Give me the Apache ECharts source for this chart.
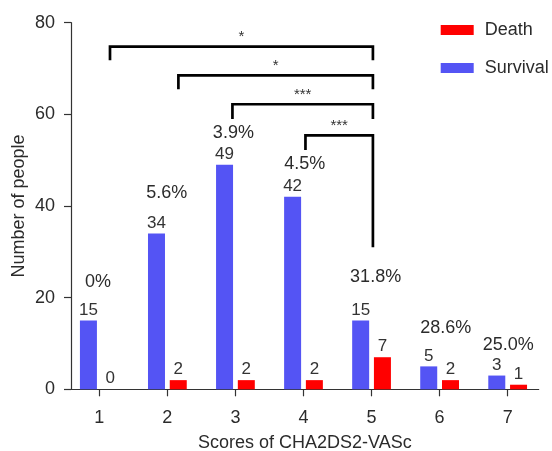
<!DOCTYPE html>
<html>
<head>
<meta charset="utf-8">
<script src="https://cdn.jsdelivr.net/npm/echarts@6/dist/echarts.min.js"></script>
<style>html,body{margin:0;padding:0;background:#fff}#c{width:552px;height:451px}</style>
</head>
<body>
<div id="c"></div>
<script>
// ---- data ----
var categories = [1, 2, 3, 4, 5, 6, 7];
var survival = [15, 34, 49, 42, 15, 5, 3];
var death = [0, 2, 2, 2, 7, 2, 1];
var pctLabels = ['0%', '5.6%', '3.9%', '4.5%', '31.8%', '28.6%', '25.0%'];
var pctX = [0.98, 1.99, 2.97, 4.02, 5.06, 6.09, 7.01];
var pctY = [23.5, 42.8, 55.9, 49.2, 24.6, 13.4, 9.7];
var yTicks = [0, 20, 40, 60, 80];
// significance brackets (data units)
var brLeft = [1.157, 2.162, 2.956, 4.029];
var brRight = [5.02, 5.02, 5.02, 5.02];
var brTop = [74.8, 68.5, 62.2, 55.4];
var brLeftBottom = [71.8, 65.5, 59.0, 52.2];
var brRightBottom = [71.8, 65.5, 59.0, 31.0];
var brStars = ['*', '*', '***', '***'];

var FONT = 'Liberation Sans, Arial, Helvetica, sans-serif';
var TXT = '#2b2b2b';
var chart = echarts.init(document.getElementById('c'), null, {renderer: 'canvas'});

var series = [
  {
    name: 'Survival', type: 'bar', barWidth: 17, barGap: '28%',
    itemStyle: {color: '#5454f4'},
    label: {show: true, position: 'top', distance: 2, fontSize: 17, color: '#333', fontFamily: FONT},
    data: categories.map(function (c, i) { return [c, survival[i]]; })
  },
  {
    name: 'Death', type: 'bar', barWidth: 17, barGap: '28%',
    itemStyle: {color: '#ff0000'},
    label: {show: true, position: 'top', distance: 2, fontSize: 17, color: '#333', fontFamily: FONT},
    data: categories.map(function (c, i) { return [c, death[i]]; })
  },
  {
    name: 'pct', type: 'scatter', symbolSize: 0, silent: true,
    itemStyle: {opacity: 1},
    label: {show: true, position: 'inside', fontSize: 18, color: TXT, fontFamily: FONT,
      formatter: function (p) { return pctLabels[p.dataIndex]; }},
    data: pctX.map(function (x, i) { return [x, pctY[i]]; })
  },
  {
    name: 'stars', type: 'scatter', symbolSize: 0, silent: true,
    itemStyle: {opacity: 1},
    label: {show: true, position: 'top', distance: 2, fontSize: 15, color: '#333', fontFamily: FONT,
      formatter: function (p) { return brStars[p.dataIndex]; }},
    data: brLeft.map(function (x, i) { return [(x + brRight[i]) / 2, brTop[i]]; })
  }
];
brLeft.forEach(function (x, i) {
  series.push({
    name: 'br' + i, type: 'line', symbol: 'none', silent: true, z: 5,
    lineStyle: {color: '#000', width: 2.7, cap: 'butt', join: 'miter'},
    data: [[x, brLeftBottom[i]], [x, brTop[i]], [brRight[i], brTop[i]], [brRight[i], brRightBottom[i]]]
  });
});

chart.setOption({
  animation: false,
  backgroundColor: '#fff',
  textStyle: {fontFamily: FONT},
  grid: {left: 71, right: 13.3, top: 22.7, bottom: 61.7, containLabel: false, outerBoundsMode: 'none'},
  legend: {
    data: ['Death', 'Survival'], orient: 'vertical', left: 440.7, top: 21,
    itemWidth: 33, itemHeight: 10, itemGap: 20, padding: 0,
    icon: 'rect',
    textStyle: {fontSize: 18, color: TXT, fontFamily: FONT, padding: [0, 0, 0, 6]}
  },
  xAxis: {
    type: 'value', min: 0.584, max: 7.456,
    name: 'Scores of CHA2DS2-VASc', nameLocation: 'middle', nameGap: 45, nameMoveOverlap: false,
    nameTextStyle: {fontSize: 18, color: TXT, fontFamily: FONT},
    axisLine: {show: true, lineStyle: {color: '#333', width: 1.2}},
    axisTick: {show: true, length: 7, customValues: categories, lineStyle: {color: '#333', width: 1.2}},
    axisLabel: {customValues: categories, fontSize: 18, color: TXT, margin: 20, fontFamily: FONT},
    splitLine: {show: false}
  },
  yAxis: {
    type: 'value', min: 0, max: 80, interval: 20,
    name: 'Number of people', nameLocation: 'middle', nameGap: 43, nameMoveOverlap: false,
    nameTextStyle: {fontSize: 18, color: TXT, fontFamily: FONT},
    axisLine: {show: true, lineStyle: {color: '#333', width: 1.2}},
    axisTick: {show: true, length: 7, lineStyle: {color: '#333', width: 1.2}},
    axisLabel: {fontSize: 18, color: TXT, margin: 16, fontFamily: FONT,
      customValues: yTicks},
    splitLine: {show: false}
  },
  series: series
});
</script>
</body>
</html>
